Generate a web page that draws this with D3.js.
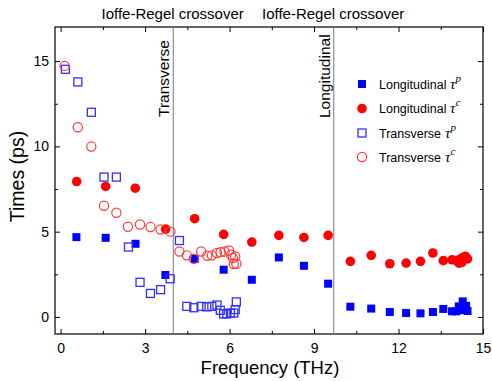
<!DOCTYPE html>
<html>
<head>
<meta charset="utf-8">
<script src="https://cdn.jsdelivr.net/npm/d3@7"></script>
<style>
  html, body { margin: 0; padding: 0; background: #fff; }
  svg { display: block; font-family: "Liberation Sans", Arial, sans-serif; }
</style>
</head>
<body>
<svg id="chart" width="492" height="381"></svg>
<script>
// Relaxation times vs phonon frequency: [frequency (THz), time (ps)]
const longitudinalTauP = [
  [0.56, 4.68], [1.6, 4.64], [2.66, 4.29], [3.72, 2.46], [4.76, 3.4], [5.79, 2.77],
  [6.79, 2.18], [7.75, 3.49], [8.64, 3.0], [9.5, 1.95], [10.29, 0.6], [11.03, 0.49],
  [11.69, 0.29], [12.27, 0.23], [12.78, 0.21], [13.22, 0.29], [13.59, 0.47], [13.9, 0.33],
  [14.05, 0.33], [14.14, 0.62], [14.2, 0.4], [14.28, 0.91], [14.35, 0.5], [14.4, 0.65], [14.45, 0.35]
];
const longitudinalTauC = [
  [0.57, 7.94], [1.6, 7.65], [2.65, 7.55], [3.73, 5.15], [4.76, 5.76], [5.79, 4.84],
  [6.79, 4.39], [7.75, 4.78], [8.64, 4.66], [9.5, 4.78], [10.29, 3.26], [11.03, 3.61],
  [11.69, 3.12], [12.27, 3.16], [12.78, 3.26], [13.22, 3.75], [13.59, 3.3], [13.9, 3.35],
  [14.05, 3.3], [14.15, 3.15], [14.2, 3.4], [14.25, 3.2], [14.3, 3.5], [14.38, 3.55], [14.45, 3.4]
];
const transverseTauP = [
  [0.17, 14.52], [0.61, 13.78], [1.09, 12.0], [1.54, 8.2], [1.98, 8.2], [2.41, 4.1],
  [2.82, 2.03], [3.19, 1.38], [3.55, 1.6], [3.89, 2.24], [4.22, 4.48], [4.48, 0.62],
  [4.73, 0.54], [4.99, 0.62], [5.19, 0.59], [5.37, 0.62], [5.55, 0.7], [5.67, 0.39],
  [5.79, 0.18], [5.9, 0.18], [6.03, 0.23], [6.15, 0.23], [6.2, 0.43], [6.24, 0.88]
];
const transverseTauC = [
  [0.14, 14.72], [0.61, 11.12], [1.09, 9.99], [1.54, 6.52], [1.98, 6.11], [2.39, 5.29],
  [2.82, 5.42], [3.19, 5.27], [3.55, 5.13], [3.9, 5.0], [4.22, 3.84], [4.48, 3.61],
  [4.73, 3.41], [4.99, 3.84], [5.21, 3.59], [5.37, 3.61], [5.55, 3.75], [5.68, 3.8],
  [5.82, 3.84], [5.98, 3.9], [6.05, 3.65], [6.12, 3.45], [6.2, 3.55], [6.15, 3.1], [6.24, 3.12]
];

// Ioffe-Regel crossover frequencies (THz)
const crossoverFreqs = [4.0, 9.7];
const crossoverLabels = ["Transverse", "Longitudinal"];

const xTicks = [0, 3, 6, 9, 12, 15];
const xMinorTicks = [1.5, 4.5, 7.5, 10.5, 13.5];
const yTicks = [0, 5, 10, 15];
const yMinorTicks = [2.5, 7.5, 12.5];

const legendLabels = ["Longitudinal", "Longitudinal", "Transverse", "Transverse"];
const legendSups = ["p", "c", "p", "c"];

(function () {
  const BLUE = "#0000ff", RED = "#ff0000";
  const OPEN_BLUE = "#3030ff", OPEN_RED = "#ff3a3a";

  const svg = d3.select("#chart");
  const pLeft = 55, pRight = 483, pTop = 27, pBottom = 334;

  const x = d3.scaleLinear().domain([-0.2, 15]).range([pLeft, pRight]);
  const y = d3.scaleLinear().domain([-1, 17]).range([pBottom, pTop]);

  // Axes with inward ticks on all four sides
  function styleAxis(g) {
    g.select(".domain").remove();
    g.selectAll(".tick line").attr("stroke", "#000").attr("stroke-width", 1);
    g.selectAll("text").attr("fill", "#000").attr("font-size", 14)
      .attr("font-family", "'Liberation Sans', Arial, sans-serif");
  }
  svg.append("g").attr("transform", `translate(0,${pBottom})`)
    .call(d3.axisBottom(x).tickValues(xTicks).tickSize(-5).tickPadding(9).tickFormat(d3.format("d")))
    .call(styleAxis);
  svg.append("g").attr("transform", `translate(0,${pBottom})`)
    .call(d3.axisBottom(x).tickValues(xMinorTicks).tickSize(-3).tickFormat(""))
    .call(styleAxis);
  svg.append("g").attr("transform", `translate(0,${pTop})`)
    .call(d3.axisTop(x).tickValues(xTicks).tickSize(-5).tickFormat(""))
    .call(styleAxis);
  svg.append("g").attr("transform", `translate(0,${pTop})`)
    .call(d3.axisTop(x).tickValues(xMinorTicks).tickSize(-3).tickFormat(""))
    .call(styleAxis);
  svg.append("g").attr("transform", `translate(${pLeft},0)`)
    .call(d3.axisLeft(y).tickValues(yTicks).tickSize(-5).tickPadding(6).tickFormat(d3.format("d")))
    .call(styleAxis);
  svg.append("g").attr("transform", `translate(${pLeft},0)`)
    .call(d3.axisLeft(y).tickValues(yMinorTicks).tickSize(-3).tickFormat(""))
    .call(styleAxis);
  svg.append("g").attr("transform", `translate(${pRight},0)`)
    .call(d3.axisRight(y).tickValues(yTicks).tickSize(-5).tickFormat(""))
    .call(styleAxis);
  svg.append("g").attr("transform", `translate(${pRight},0)`)
    .call(d3.axisRight(y).tickValues(yMinorTicks).tickSize(-3).tickFormat(""))
    .call(styleAxis);

  // Plot frame
  svg.append("rect")
    .attr("x", pLeft).attr("y", pTop)
    .attr("width", pRight - pLeft).attr("height", pBottom - pTop)
    .attr("fill", "none").attr("stroke", "#000").attr("stroke-width", 1.2);

  // Axis titles
  svg.append("text")
    .attr("x", (pLeft + pRight) / 2 + 1).attr("y", 374)
    .attr("text-anchor", "middle").attr("font-size", 18.5)
    .text("Frequency (THz)");
  svg.append("text")
    .attr("transform", `translate(24,176.5) rotate(-90)`)
    .attr("text-anchor", "middle").attr("font-size", 19.5)
    .text("Times (ps)");

  // Crossover markers
  crossoverFreqs.forEach((f, i) => {
    svg.append("line")
      .attr("x1", x(f)).attr("x2", x(f))
      .attr("y1", pTop).attr("y2", pBottom)
      .attr("stroke", "#7a7a7a").attr("stroke-width", 1);
    svg.append("text")
      .attr("transform", `translate(${x(f) - 4},${i === 0 ? 117 : 118}) rotate(-90)`)
      .attr("font-size", 15.5).attr("fill", "#000")
      .text(crossoverLabels[i]);
    svg.append("text")
      .attr("x", i === 0 ? 101.5 : 262).attr("y", 19)
      .attr("font-size", 15).attr("fill", "#000")
      .text("Ioffe-Regel crossover");
  });

  // Marker drawing helpers
  const SQ = 8, R = 4.6;
  function squares(data, fill, stroke) {
    svg.append("g").selectAll("rect").data(data).join("rect")
      .attr("x", d => x(d[0]) - SQ / 2).attr("y", d => y(d[1]) - SQ / 2)
      .attr("width", SQ).attr("height", SQ)
      .attr("fill", fill).attr("stroke", stroke).attr("stroke-width", fill === "none" ? 1.3 : 0);
  }
  function circles(data, fill, stroke) {
    svg.append("g").selectAll("circle").data(data).join("circle")
      .attr("cx", d => x(d[0])).attr("cy", d => y(d[1]))
      .attr("r", fill === "none" ? R : R + 0.2)
      .attr("fill", fill).attr("stroke", stroke).attr("stroke-width", fill === "none" ? 1.2 : 0);
  }

  squares(longitudinalTauP, BLUE, "none");
  circles(longitudinalTauC, RED, "none");
  squares(transverseTauP, "none", OPEN_BLUE);
  circles(transverseTauC, "none", OPEN_RED);

  // Legend
  const legendY = [84, 108.5, 133, 157];
  const legendTextX = 379;
  const tauX = [450, 450, 445, 445];
  const legend = svg.append("g");
  legendY.forEach((ly, i) => {
    const lx = 362;
    if (i === 0) {
      legend.append("rect").attr("x", lx - SQ / 2).attr("y", ly - SQ / 2)
        .attr("width", SQ).attr("height", SQ).attr("fill", BLUE);
    } else if (i === 1) {
      legend.append("circle").attr("cx", lx).attr("cy", ly).attr("r", R + 0.2).attr("fill", RED);
    } else if (i === 2) {
      legend.append("rect").attr("x", lx - SQ / 2).attr("y", ly - SQ / 2)
        .attr("width", SQ).attr("height", SQ).attr("fill", "none")
        .attr("stroke", OPEN_BLUE).attr("stroke-width", 1.3);
    } else {
      legend.append("circle").attr("cx", lx).attr("cy", ly).attr("r", R)
        .attr("fill", "none").attr("stroke", OPEN_RED).attr("stroke-width", 1.2);
    }
    const t = legend.append("text").attr("x", legendTextX).attr("y", ly + 4.5)
      .attr("font-size", 12.5).attr("fill", "#000");
    t.append("tspan").text(legendLabels[i]);
    t.append("tspan").attr("x", tauX[i])
      .attr("font-family", "'Liberation Serif', 'DejaVu Serif', serif")
      .attr("font-style", "italic").attr("font-size", 15).text("τ");
    t.append("tspan").attr("dy", -7)
      .attr("font-family", "'Liberation Serif', 'DejaVu Serif', serif")
      .attr("font-style", "italic").attr("font-size", 11).text(legendSups[i]);
  });
})();
</script>
</body>
</html>
